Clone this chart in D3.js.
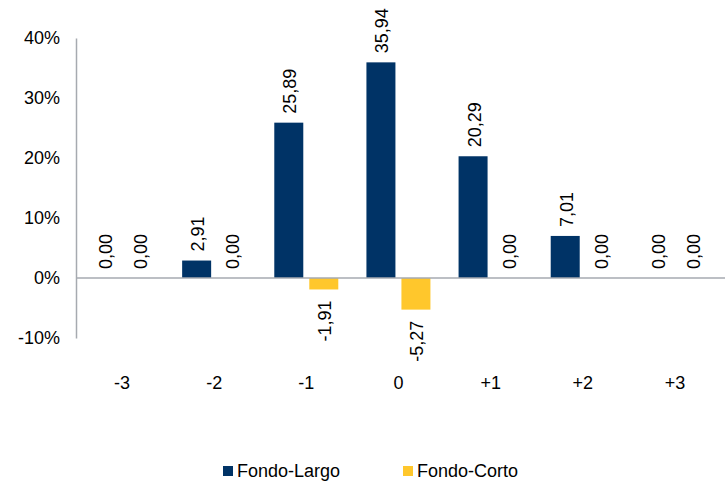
<!DOCTYPE html>
<html><head><meta charset="utf-8">
<script src="https://cdn.jsdelivr.net/npm/d3@7"></script>
<style>body{margin:0;background:#fff}svg{display:block}text{font-family:"Liberation Sans",Arial,sans-serif;fill:#000}</style>
</head><body><svg id="c" width="725" height="483"></svg>
<script>
const categories = ["-3","-2","-1","0","+1","+2","+3"];
const seriesNames = ["Fondo-Largo","Fondo-Corto"];
const largo = [0, 2.91, 25.89, 35.94, 20.29, 7.01, 0];
const corto = [0, 0, -1.91, -5.27, 0, 0, 0];
const yTicks = [-0.1, 0, 0.1, 0.2, 0.3, 0.4];
const colors = ["#003366", "#FFC72C"];

const svg = d3.select("#c");
const fs = 18;
const x0 = d3.scaleBand().domain(categories).range([76, 721]).padding(0);
const x1 = d3.scaleBand().domain(seriesNames).range([14, 78]).paddingInner(0.1714).paddingOuter(0);
const y = d3.scaleLinear().domain([-0.1, 0.4]).range([338, 38]);

// y axis
const yAxis = d3.axisLeft(y).tickValues(yTicks).tickSize(0).tickPadding(16)
  .tickFormat(d => Math.round(d*100) + "%");
const gy = svg.append("g").attr("transform","translate(76,0)").call(yAxis);
gy.select(".domain").attr("stroke","#a6aab0").attr("stroke-width",1.5);
gy.selectAll("text").style("font-size", fs+"px").attr("font-family",null);

// bars
const data = categories.map((c,i)=>({c, vals:[largo[i], corto[i]]}));
const groups = svg.append("g").selectAll("g").data(data).join("g")
  .attr("transform", d => `translate(${x0(d.c)},0)`);
groups.selectAll("rect").data(d => d.vals.map((v,j)=>({v, s:seriesNames[j], j})))
  .join("rect")
  .attr("x", d => x1(d.s)).attr("width", x1.bandwidth())
  .attr("y", d => y(Math.max(0, d.v/100)))
  .attr("height", d => Math.abs(y(d.v/100) - y(0)))
  .attr("fill", d => colors[d.j]);

// zero line
svg.append("line").attr("x1",76).attr("x2",725).attr("y1",y(0)).attr("y2",y(0))
  .attr("stroke","#a6aab0").attr("stroke-width",1.5);

// labels
groups.selectAll("text.lbl").data(d => d.vals.map((v,j)=>({v, s:seriesNames[j], j})))
  .join("text").attr("class","lbl")
  .style("font-size", fs+"px")
  .attr("transform", d => {
    const cx = x1(d.s) + x1.bandwidth()/2 + 7.5;
    const yy = d.v < 0 ? y(d.v/100) + 11 : y(d.v/100) - 9;
    return `translate(${cx},${yy}) rotate(-90)`;
  })
  .attr("text-anchor", d => d.v < 0 ? "end" : "start")
  .text(d => d.v.toFixed(2).replace(".", ","));

// category labels
svg.append("g").selectAll("text").data(categories).join("text")
  .attr("x", d => x0(d) + x0.bandwidth()/2).attr("y", 389)
  .attr("text-anchor","middle").style("font-size", fs+"px").text(d => d);

// legend
const leg = svg.append("g");
const legX = [223, 403];
seriesNames.forEach((s,i) => {
  leg.append("rect").attr("x", legX[i]).attr("y", 466).attr("width",10).attr("height",10).attr("fill", colors[i]);
  leg.append("text").attr("x", legX[i]+14).attr("y", 477).style("font-size", fs+"px").text(s);
});
</script></body></html>
